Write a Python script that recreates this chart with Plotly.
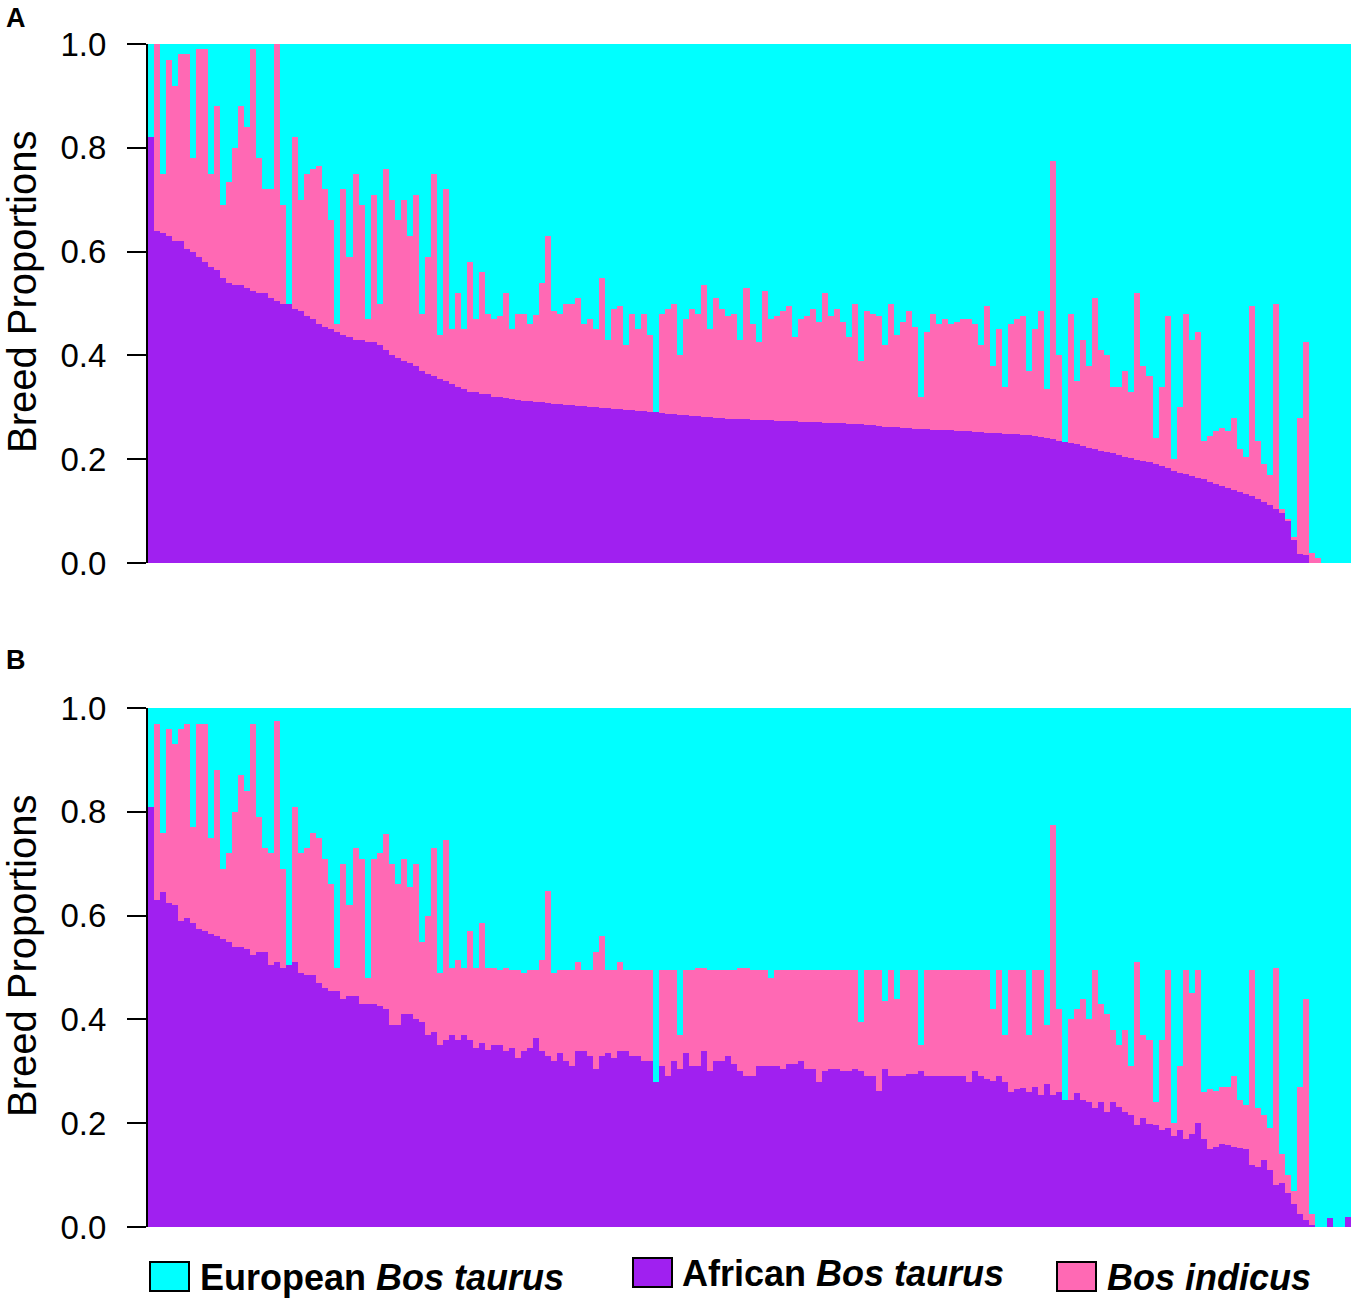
import plotly.graph_objects as go

# Breed proportions per animal, sorted by African Bos taurus share.
# *_african: African Bos taurus share; *_top: African + Bos indicus share (upper edge of the pink).
a_african = [
    0.82, 0.64, 0.635, 0.63, 0.62, 0.62, 0.605, 0.60, 0.59, 0.58,
    0.57, 0.565, 0.55, 0.54, 0.535, 0.535, 0.53, 0.525, 0.52, 0.52,
    0.51, 0.505, 0.50, 0.50, 0.49, 0.485, 0.475, 0.47, 0.46, 0.455,
    0.45, 0.445, 0.44, 0.435, 0.43, 0.43, 0.425, 0.425, 0.42, 0.41,
    0.40, 0.395, 0.39, 0.385, 0.38, 0.37, 0.365, 0.36, 0.355, 0.35,
    0.345, 0.34, 0.335, 0.33, 0.33, 0.325, 0.325, 0.32, 0.32, 0.318,
    0.316, 0.315, 0.313, 0.312, 0.31, 0.31, 0.308, 0.307, 0.306, 0.305,
    0.304, 0.303, 0.302, 0.301, 0.30, 0.299, 0.298, 0.297, 0.296, 0.295,
    0.294, 0.293, 0.292, 0.291, 0.29, 0.289, 0.288, 0.287, 0.286, 0.285,
    0.284, 0.283, 0.282, 0.281, 0.28, 0.279, 0.278, 0.278, 0.277, 0.277,
    0.276, 0.276, 0.275, 0.275, 0.274, 0.274, 0.273, 0.273, 0.272, 0.272,
    0.271, 0.271, 0.27, 0.27, 0.269, 0.269, 0.268, 0.268, 0.267, 0.266,
    0.265, 0.264, 0.263, 0.262, 0.262, 0.261, 0.26, 0.259, 0.258, 0.258,
    0.257, 0.257, 0.256, 0.256, 0.255, 0.255, 0.254, 0.253, 0.252, 0.251,
    0.25, 0.25, 0.249, 0.249, 0.248, 0.247, 0.246, 0.245, 0.243, 0.241,
    0.238, 0.236, 0.234, 0.232, 0.229, 0.226, 0.222, 0.219, 0.216, 0.214,
    0.211, 0.208, 0.205, 0.202, 0.199, 0.196, 0.194, 0.19, 0.187, 0.184,
    0.178, 0.174, 0.171, 0.168, 0.164, 0.161, 0.157, 0.153, 0.149, 0.145,
    0.141, 0.137, 0.133, 0.129, 0.124, 0.118, 0.112, 0.105, 0.097, 0.082,
    0.045, 0.017, 0.015, 0, 0, 0, 0, 0, 0, 0,
]
a_top = [
    0.82, 1.0, 0.75, 0.97, 0.92, 0.98, 0.98, 0.78, 0.99, 0.99,
    0.75, 0.88, 0.69, 0.735, 0.80, 0.88, 0.84, 0.99, 0.78, 0.72,
    0.72, 1.0, 0.69, 0.50, 0.82, 0.70, 0.75, 0.76, 0.765, 0.72,
    0.66, 0.46, 0.72, 0.59, 0.75, 0.69, 0.47, 0.71, 0.50, 0.76,
    0.70, 0.66, 0.70, 0.63, 0.71, 0.48, 0.59, 0.75, 0.44, 0.72,
    0.45, 0.52, 0.45, 0.58, 0.47, 0.56, 0.48, 0.47, 0.475, 0.52,
    0.45, 0.48, 0.48, 0.46, 0.478, 0.54, 0.63, 0.485, 0.48, 0.50,
    0.50, 0.51, 0.46, 0.47, 0.45, 0.55, 0.43, 0.49, 0.495, 0.42,
    0.48, 0.45, 0.48, 0.44, 0.29, 0.48, 0.49, 0.50, 0.40, 0.47,
    0.49, 0.48, 0.535, 0.45, 0.51, 0.49, 0.475, 0.48, 0.43, 0.53,
    0.46, 0.425, 0.525, 0.47, 0.475, 0.485, 0.495, 0.435, 0.47, 0.475,
    0.49, 0.465, 0.52, 0.475, 0.49, 0.465, 0.435, 0.50, 0.39, 0.485,
    0.48, 0.475, 0.42, 0.50, 0.44, 0.465, 0.485, 0.455, 0.32, 0.445,
    0.48, 0.46, 0.47, 0.46, 0.465, 0.47, 0.47, 0.46, 0.42, 0.495,
    0.38, 0.45, 0.34, 0.46, 0.47, 0.475, 0.37, 0.45, 0.485, 0.335,
    0.775, 0.40, 0.234, 0.48, 0.35, 0.43, 0.38, 0.51, 0.41, 0.40,
    0.34, 0.34, 0.37, 0.33, 0.52, 0.38, 0.36, 0.24, 0.34, 0.475,
    0.20, 0.30, 0.48, 0.43, 0.445, 0.235, 0.245, 0.255, 0.26, 0.255,
    0.28, 0.22, 0.205, 0.495, 0.235, 0.19, 0.17, 0.50, 0.105, 0.085,
    0.05, 0.28, 0.425, 0.02, 0.01, 0, 0, 0, 0, 0,
]
b_african = [
    0.81, 0.63, 0.645, 0.625, 0.62, 0.59, 0.595, 0.585, 0.575, 0.57,
    0.565, 0.56, 0.555, 0.55, 0.54, 0.54, 0.535, 0.525, 0.53, 0.53,
    0.505, 0.51, 0.50, 0.505, 0.51, 0.49, 0.485, 0.485, 0.47, 0.46,
    0.455, 0.455, 0.44, 0.445, 0.445, 0.43, 0.43, 0.43, 0.425, 0.42,
    0.39, 0.39, 0.41, 0.41, 0.40, 0.395, 0.37, 0.375, 0.35, 0.36,
    0.37, 0.36, 0.37, 0.36, 0.345, 0.355, 0.342, 0.35, 0.35, 0.34,
    0.345, 0.325, 0.34, 0.345, 0.365, 0.34, 0.33, 0.32, 0.335, 0.32,
    0.31, 0.34, 0.34, 0.33, 0.305, 0.33, 0.335, 0.325, 0.34, 0.34,
    0.33, 0.33, 0.32, 0.32, 0.28, 0.31, 0.29, 0.32, 0.305, 0.335,
    0.31, 0.31, 0.34, 0.30, 0.32, 0.32, 0.33, 0.315, 0.30, 0.29,
    0.29, 0.31, 0.31, 0.31, 0.31, 0.305, 0.315, 0.315, 0.32, 0.305,
    0.305, 0.28, 0.30, 0.305, 0.305, 0.30, 0.30, 0.305, 0.30, 0.29,
    0.29, 0.262, 0.305, 0.29, 0.29, 0.29, 0.295, 0.295, 0.30, 0.29,
    0.29, 0.29, 0.29, 0.29, 0.29, 0.29, 0.28, 0.30, 0.29, 0.285,
    0.282, 0.29, 0.28, 0.26, 0.265, 0.268, 0.26, 0.27, 0.255, 0.275,
    0.255, 0.26, 0.245, 0.245, 0.258, 0.245, 0.24, 0.23, 0.24, 0.222,
    0.24, 0.232, 0.222, 0.216, 0.196, 0.21, 0.198, 0.196, 0.186, 0.19,
    0.176, 0.186, 0.17, 0.18, 0.20, 0.17, 0.15, 0.155, 0.16, 0.158,
    0.155, 0.153, 0.15, 0.12, 0.115, 0.13, 0.11, 0.08, 0.085, 0.065,
    0.045, 0.025, 0.013, 0.003, 0, 0, 0.017, 0, 0, 0.02,
]
b_top = [
    0.81, 0.97, 0.76, 0.96, 0.93, 0.96, 0.97, 0.77, 0.97, 0.97,
    0.75, 0.88, 0.69, 0.72, 0.80, 0.87, 0.84, 0.97, 0.79, 0.73,
    0.72, 0.975, 0.69, 0.505, 0.81, 0.72, 0.73, 0.76, 0.75, 0.71,
    0.66, 0.50, 0.70, 0.62, 0.73, 0.71, 0.48, 0.71, 0.72, 0.757,
    0.70, 0.66, 0.71, 0.655, 0.70, 0.55, 0.60, 0.73, 0.49, 0.745,
    0.50, 0.515, 0.50, 0.57, 0.50, 0.585, 0.50, 0.50, 0.495, 0.50,
    0.495, 0.495, 0.49, 0.495, 0.495, 0.515, 0.648, 0.49, 0.495, 0.495,
    0.495, 0.51, 0.495, 0.495, 0.53, 0.56, 0.495, 0.495, 0.51, 0.495,
    0.495, 0.495, 0.495, 0.495, 0.28, 0.495, 0.495, 0.495, 0.37, 0.495,
    0.495, 0.50, 0.50, 0.495, 0.495, 0.495, 0.495, 0.495, 0.50, 0.50,
    0.495, 0.495, 0.495, 0.48, 0.495, 0.495, 0.495, 0.495, 0.495, 0.495,
    0.495, 0.495, 0.495, 0.495, 0.495, 0.495, 0.495, 0.495, 0.395, 0.495,
    0.495, 0.495, 0.435, 0.495, 0.44, 0.495, 0.495, 0.495, 0.35, 0.495,
    0.495, 0.495, 0.495, 0.495, 0.495, 0.495, 0.495, 0.495, 0.495, 0.495,
    0.42, 0.495, 0.37, 0.495, 0.495, 0.495, 0.37, 0.495, 0.495, 0.39,
    0.775, 0.42, 0.245, 0.40, 0.42, 0.44, 0.40, 0.495, 0.43, 0.41,
    0.38, 0.35, 0.38, 0.31, 0.51, 0.37, 0.36, 0.24, 0.36, 0.495,
    0.20, 0.31, 0.495, 0.45, 0.495, 0.26, 0.265, 0.262, 0.27, 0.27,
    0.29, 0.245, 0.235, 0.495, 0.23, 0.215, 0.19, 0.50, 0.14, 0.10,
    0.07, 0.27, 0.44, 0.025, 0, 0, 0.017, 0, 0, 0.02,
]

tick_vals = [0.0, 0.2, 0.4, 0.6, 0.8, 1.0]
tick_text = ["0.0", "0.2", "0.4", "0.6", "0.8", "1.0"]
breeds = ["European <i>Bos taurus</i>", "African <i>Bos taurus</i>", "<i>Bos indicus</i>"]
colours = ["#00FFFF", "#A020F0", "#FF69B4"]

# plot boxes sit at x 148-1351, y 44-563 (A) and 708-1227 (B)
W, H = 1355, 1299
L, R, T, B = 148, 4, 44, 72
PW, PH = W - L - R, H - T - B


def px(x):
    return (x - L) / PW


def py(y):
    return (H - B - y) / PH


fig = go.Figure()

panels = [("", a_african, a_top), ("2", b_african, b_top)]
for suffix, african, top in panels:
    n = len(african)
    idx = list(range(n))
    indicus = [round(max(t - a, 0), 4) for a, t in zip(african, top)]
    european = [round(max(1 - t, 0), 4) for t in top]
    for vals, name, col in [(african, breeds[1], colours[1]),
                            (indicus, breeds[2], colours[2]),
                            (european, breeds[0], colours[0])]:
        fig.add_trace(go.Bar(
            x=idx, y=vals, name=name, marker_color=col, marker_line_width=0,
            xaxis="x" + suffix, yaxis="y" + suffix, showlegend=False,
        ))

n = len(a_african)
yax = dict(
    range=[0, 1], tickvals=tick_vals, ticktext=tick_text, ticks="outside",
    ticklen=19, tickwidth=2, tickcolor="black", showline=True, linecolor="black",
    linewidth=2, showgrid=False, zeroline=False, ticklabelstandoff=14,
    tickfont=dict(family="Liberation Sans, Arial", size=33, color="black"),
)
xax = dict(range=[-0.5, n - 0.5], showticklabels=False, showgrid=False,
           zeroline=False, showline=False, ticks="")

fig.update_layout(
    width=W, height=H, margin=dict(l=L, r=R, t=T, b=B),
    paper_bgcolor="white", plot_bgcolor="white",
    barmode="stack", bargap=0,
    xaxis=dict(xax, domain=[0, 1], anchor="y"),
    yaxis=dict(yax, domain=[py(563), py(44)], anchor="x"),
    xaxis2=dict(xax, domain=[0, 1], anchor="y2"),
    yaxis2=dict(yax, domain=[py(1227), py(708)], anchor="x2"),
)

annots = []
for label, ycen, ylab in [("A", 292, 18), ("B", 956, 660)]:
    annots.append(dict(
        text="<b>%s</b>" % label, x=px(16), y=py(ylab), xref="paper", yref="paper",
        showarrow=False, xanchor="center", yanchor="middle",
        font=dict(family="Liberation Sans, Arial", size=27, color="black"),
    ))
    annots.append(dict(
        text="Breed Proportions", textangle=-90, x=px(22), y=py(ycen),
        xref="paper", yref="paper", showarrow=False, xanchor="center", yanchor="middle",
        font=dict(family="Liberation Sans, Arial", size=40, color="black"),
    ))

# legend drawn as boxes and labels under the lower panel
legend_items = [(150, 1262, 198, breeds[0], colours[0]),
                (633, 1258, 680, breeds[1], colours[1]),
                (1057, 1262, 1105, breeds[2], colours[2])]
shapes = []
for x0, y0, xt, text, col in legend_items:
    shapes.append(dict(type="rect", xref="paper", yref="paper",
                       x0=px(x0), x1=px(x0 + 39), y0=py(y0), y1=py(y0 + 29),
                       fillcolor=col, line=dict(color="black", width=2)))
    annots.append(dict(
        text="<b>%s</b>" % text, x=px(xt), y=py(y0 + 15), xref="paper", yref="paper",
        showarrow=False, xanchor="left", yanchor="middle",
        font=dict(family="Liberation Sans, Arial", size=36, color="black"),
    ))

fig.update_layout(annotations=annots, shapes=shapes)
# drop the page's default body margin so the figure starts at the window corner
fig.write_html("out.html", config={"displayModeBar": False},
               post_script="document.body.style.margin = '0';")
